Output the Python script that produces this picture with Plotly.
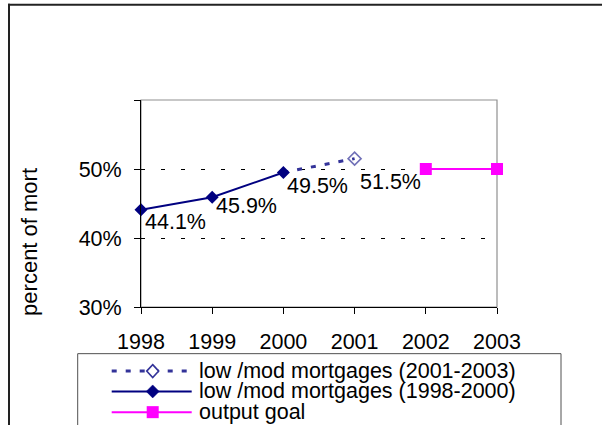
import plotly.graph_objects as go

# ---- data ----
years_hist = [1998, 1999, 2000]
vals_hist = [0.441, 0.459, 0.495]
years_proj = [2000, 2001]
vals_proj = [0.495, 0.515]
years_goal = [2002, 2003]
vals_goal = [0.50, 0.50]
label_years = [1998, 1999, 2000, 2001]
label_vals = [0.441, 0.459, 0.495, 0.515]
label_text = ["44.1%", "45.9%", "49.5%", "51.5%"]
x_ticks = [1998, 1999, 2000, 2001, 2002, 2003]
y_ticks = [0.3, 0.4, 0.5, 0.6]
y_ticktext = ["30%", "40%", "50%", ""]

name_proj = "low /mod mortgages (2001-2003)"
name_hist = "low /mod mortgages (1998-2000)"
name_goal = "output goal"

# ---- geometry (pixels) ----
W, H = 602, 425
L, R, T, B = 141, 497, 100, 306.7
def px_x(px):
    return (px - L) / (R - L)
def px_y(py):
    return (B - py) / (B - T)

FONT = "Liberation Sans, Arial, sans-serif"
NAVY = "#000080"
PROJ = "#333399"
MAG = "#FF00FF"

fig = go.Figure()

fig.add_trace(go.Scatter(
    x=years_proj, y=vals_proj, mode="lines+markers", name=name_proj,
    line=dict(color=PROJ, width=3, dash="5px,9px"),
    marker=dict(symbol=["diamond-open", "diamond-open"], size=[0, 10], color=PROJ,
                line=dict(width=1.6, color=PROJ)),
    showlegend=False, cliponaxis=False))
fig.add_trace(go.Scatter(
    x=years_hist, y=vals_hist, mode="lines+markers", name=name_hist,
    line=dict(color=NAVY, width=2),
    marker=dict(symbol="diamond", size=10, color=NAVY),
    showlegend=False, cliponaxis=False))
fig.add_trace(go.Scatter(
    x=years_goal, y=vals_goal, mode="lines+markers", name=name_goal,
    line=dict(color=MAG, width=2),
    marker=dict(symbol="square", size=12, color=MAG),
    showlegend=False, cliponaxis=False))

# data labels
shifts = [(2, -12.7), (1.5, -8.3), (2, -13.4), (3, -23.5)]
for xv, yv, t, (dx, dy) in zip(label_years, label_vals, label_text, shifts):
    fig.add_annotation(x=xv, y=yv, text=t, showarrow=False, xanchor="left", yanchor="middle",
                       xshift=dx, yshift=dy, font=dict(family=FONT, size=21.5, color="black"))

# y axis title
fig.add_annotation(xref="paper", yref="paper", x=px_x(30), y=px_y(241.7), text="percent of mort",
                   textangle=-90, showarrow=False, xanchor="center", yanchor="middle",
                   font=dict(family=FONT, size=22, color="black"))

# outer chart border (left & top visible) as thin filled bars
fig.add_shape(type="rect", xref="paper", yref="paper",
              x0=px_x(8), x1=px_x(10), y0=px_y(440), y1=px_y(4),
              fillcolor="#222222", line=dict(width=0))
fig.add_shape(type="rect", xref="paper", yref="paper",
              x0=px_x(8), x1=px_x(602), y0=px_y(6), y1=px_y(4),
              fillcolor="#222222", line=dict(width=0))
# plot area border
fig.add_shape(type="rect", xref="paper", yref="paper", x0=0, x1=1, y0=0, y1=1,
              line=dict(color="#909090", width=1.2), layer="below")
# legend box
fig.add_shape(type="rect", xref="paper", yref="paper",
              x0=px_x(77.7), x1=px_x(561), y0=px_y(440), y1=px_y(353.3),
              line=dict(color="#505050", width=1), layer="below")

# ---- legend (drawn manually to match the tight row spacing) ----
leg_rows = [370.7, 391.0, 411.7]
leg_names = [name_proj, name_hist, name_goal]
leg_colors = [PROJ, NAVY, MAG]
leg_widths = [3, 2, 2]
leg_dash = ["5px,9px", "solid", "solid"]
lx0, lx1, mx, tx = 111.7, 191.7, 152.7, 196.5
for ry, nm, c, w, d in zip(leg_rows, leg_names, leg_colors, leg_widths, leg_dash):
    fig.add_shape(type="line", xref="paper", yref="paper",
                  x0=px_x(lx0), x1=px_x(lx1), y0=px_y(ry), y1=px_y(ry),
                  line=dict(color=c, width=w, dash=d))
    fig.add_annotation(xref="paper", yref="paper", x=px_x(tx), y=px_y(ry), text=nm,
                       showarrow=False, xanchor="left", yanchor="middle",
                       font=dict(family=FONT, size=21.5, color="black"))

def diamond_path(cx, cy, hw, hh):
    pts = [(cx, cy - hh), (cx + hw, cy), (cx, cy + hh), (cx - hw, cy)]
    return "M " + " L ".join(f"{px_x(a)},{px_y(b)}" for a, b in pts) + " Z"

fig.add_shape(type="path", xref="paper", yref="paper",
              path=diamond_path(mx, leg_rows[0], 6, 6.5),
              fillcolor="white", line=dict(color=PROJ, width=1.6))
fig.add_shape(type="path", xref="paper", yref="paper",
              path=diamond_path(mx, leg_rows[1], 6.5, 6.5),
              fillcolor=NAVY, line=dict(color=NAVY, width=0.5))
fig.add_shape(type="rect", xref="paper", yref="paper",
              x0=px_x(mx - 6), x1=px_x(mx + 6), y0=px_y(leg_rows[2] + 6), y1=px_y(leg_rows[2] - 6),
              fillcolor=MAG, line=dict(color=MAG, width=0))

fig.update_xaxes(type="linear", range=[1998, 2003], tickvals=x_ticks,
                 ticks="outside", ticklen=6, tickcolor="black", tickwidth=1,
                 showline=True, linecolor="black", linewidth=1,
                 showgrid=False, zeroline=False, ticklabelstandoff=9,
                 tickfont=dict(family=FONT, size=21.5, color="black"))
fig.update_yaxes(range=[0.3, 0.6], tickvals=y_ticks, ticktext=y_ticktext,
                 ticks="outside", ticklen=6, tickcolor="black", tickwidth=1,
                 showline=True, linecolor="black", linewidth=1,
                 showgrid=True, gridcolor="black", gridwidth=1, griddash="4px,16px",
                 zeroline=False, ticklabelstandoff=8,
                 tickfont=dict(family=FONT, size=21.5, color="black"))

fig.update_layout(
    width=W, height=H,
    margin=dict(l=L, r=W - R, t=T, b=H - B, autoexpand=False),
    paper_bgcolor="white", plot_bgcolor="white",
    font=dict(family=FONT, color="black"),
    showlegend=False,
)

fig.write_html("out.html", config={"displayModeBar": False},
               post_script="document.body.style.margin='0px';document.body.style.overflow='hidden';")
